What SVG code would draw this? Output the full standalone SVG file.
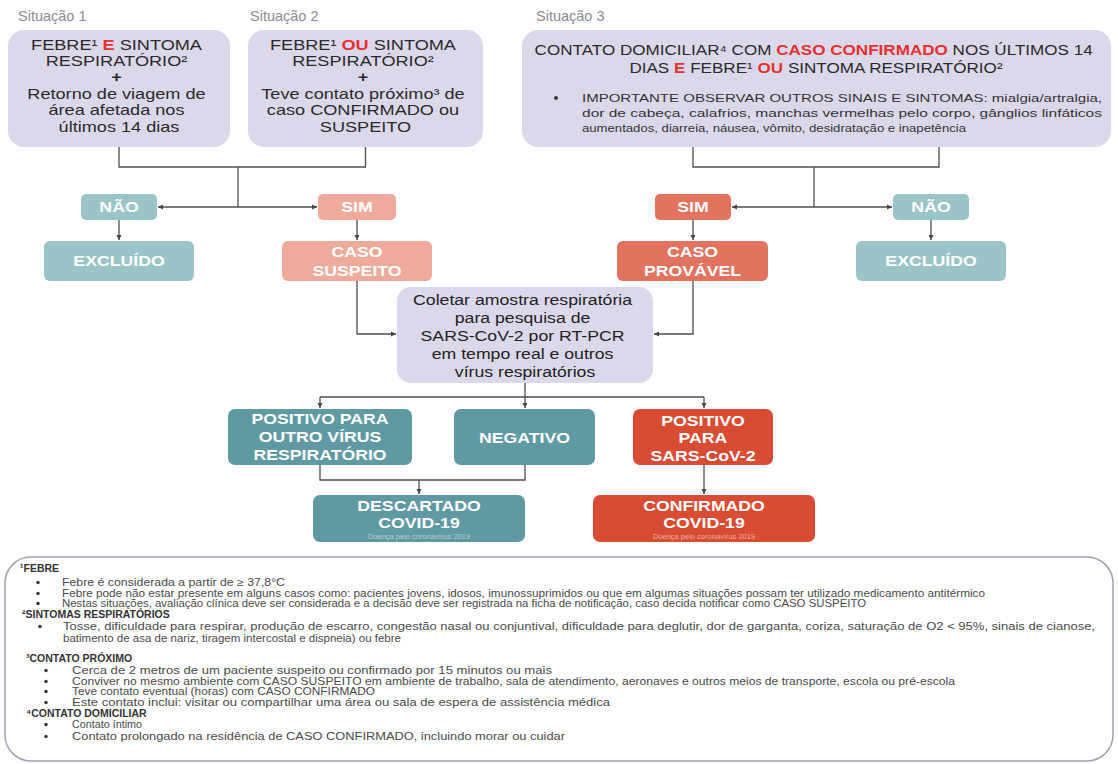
<svg xmlns="http://www.w3.org/2000/svg" width="1118" height="764" viewBox="0 0 1118 764">
<defs>
<marker id="ah" markerWidth="7" markerHeight="7" refX="5" refY="3" orient="auto" markerUnits="userSpaceOnUse"><path d="M0,0.5 L5,3 L0,5.5 z" fill="#444"/></marker>
<style>
text{font-family:"Liberation Sans",Arial,sans-serif}
.sit{font-size:14.5px;fill:#8c8c8c}
.bt{font-size:14.5px;fill:#2a2a2a;text-anchor:middle}
.b3{font-size:14px;fill:#2a2a2a;text-anchor:middle}
.bl{font-size:11.5px;fill:#333}
.red{fill:#e5322f;font-weight:bold}
.wt{font-size:14.5px;font-weight:bold;fill:#fff;text-anchor:middle}
.sm{font-size:7.5px;fill:#fff;fill-opacity:.55;text-anchor:middle}
.ct{font-size:14.5px;fill:#222;text-anchor:middle}
.nt{font-size:10.5px;fill:#4a4a4a}
.nh{font-size:10.5px;font-weight:bold;fill:#333}
.conn{stroke:#4d4d4d;stroke-width:1.3;fill:none}
.arr{marker-end:url(#ah)}
.pu{fill:#dcd8eb}
.lt{fill:#9bc4c8}
.ls{fill:#eeab9b}
.ds{fill:#e2735e}
.dt{fill:#5f9aa3}
.rd{fill:#d84c33}
.dot{fill:#333}
</style>
</defs>
<rect width="1118" height="764" fill="#fff"/>

<text class="sit" x="18" y="21">Situação 1</text>
<text class="sit" x="250" y="21">Situação 2</text>
<text class="sit" x="536" y="21">Situação 3</text>

<g id="sit1">
<rect class="pu" x="8" y="30" width="222" height="117" rx="16"/>
<text class="bt" transform="translate(119 0) scale(1.25 1)">
<tspan x="0" y="50">FEBRE¹ <tspan class="red">E</tspan> SINTOMA</tspan>
<tspan x="0" y="66">RESPIRATÓRIO²</tspan>
<tspan x="0" y="82" font-weight="bold">+</tspan>
<tspan x="0" y="99">Retorno de viagem de</tspan>
<tspan x="0" y="115">área afetada nos</tspan>
<tspan x="0" y="132">últimos 14 dias</tspan>
</text>
</g>

<g id="sit2">
<rect class="pu" x="248" y="30" width="235" height="117" rx="16"/>
<text class="bt" transform="translate(365.5 0) scale(1.25 1)">
<tspan x="0" y="50">FEBRE¹ <tspan class="red">OU</tspan> SINTOMA</tspan>
<tspan x="0" y="66">RESPIRATÓRIO²</tspan>
<tspan x="0" y="82" font-weight="bold">+</tspan>
<tspan x="0" y="99">Teve contato próximo³ de</tspan>
<tspan x="0" y="115">caso CONFIRMADO ou</tspan>
<tspan x="0" y="132">SUSPEITO</tspan>
</text>
</g>

<g id="sit3">
<rect class="pu" x="522" y="30" width="589" height="117" rx="16"/>
<text class="b3" transform="translate(816 0) scale(1.22 1)">
<tspan x="0" y="55">CONTATO DOMICILIAR⁴ COM <tspan class="red">CASO CONFIRMADO</tspan> NOS ÚLTIMOS 14</tspan>
<tspan x="0" y="73">DIAS <tspan class="red">E</tspan> FEBRE¹ <tspan class="red">OU</tspan> SINTOMA RESPIRATÓRIO²</tspan>
</text>
<circle class="dot" cx="556" cy="98" r="2"/>
<text class="bl" x="582" y="102" textLength="520" lengthAdjust="spacingAndGlyphs">IMPORTANTE OBSERVAR OUTROS SINAIS E SINTOMAS: mialgia/artralgia,</text>
<text class="bl" x="582" y="117" textLength="520" lengthAdjust="spacingAndGlyphs">dor de cabeça, calafrios, manchas vermelhas pelo corpo, gânglios linfáticos</text>
<text class="bl" x="582" y="132" textLength="384" lengthAdjust="spacingAndGlyphs">aumentados, diarreia, náusea, vômito, desidratação e inapetência</text>
</g>

<g id="nao1"><rect class="lt" x="81" y="194" width="76" height="26" rx="5"/><text class="wt" transform="translate(119 0) scale(1.22 1)" x="0" y="212">NÃO</text></g>
<g id="excluido1"><rect class="lt" x="44" y="241" width="150" height="40" rx="6"/><text class="wt" transform="translate(119 0) scale(1.22 1)" x="0" y="266">EXCLUÍDO</text></g>
<g id="sim1"><rect class="ls" x="318" y="194" width="78" height="26" rx="5"/><text class="wt" transform="translate(357 0) scale(1.22 1)" x="0" y="212">SIM</text></g>
<g id="suspeito"><rect class="ls" x="282" y="241" width="150" height="40" rx="6"/><text class="wt" transform="translate(357 0) scale(1.22 1)"><tspan x="0" y="257">CASO</tspan><tspan x="0" y="276">SUSPEITO</tspan></text></g>
<g id="sim2"><rect class="ds" x="655" y="194" width="76" height="26" rx="5"/><text class="wt" transform="translate(693 0) scale(1.22 1)" x="0" y="212">SIM</text></g>
<g id="provavel"><rect class="ds" x="617" y="241" width="151" height="40" rx="6"/><text class="wt" transform="translate(692.5 0) scale(1.22 1)"><tspan x="0" y="257">CASO</tspan><tspan x="0" y="276">PROVÁVEL</tspan></text></g>
<g id="nao2"><rect class="lt" x="893" y="194" width="76" height="26" rx="5"/><text class="wt" transform="translate(931 0) scale(1.22 1)" x="0" y="212">NÃO</text></g>
<g id="excluido2"><rect class="lt" x="856" y="241" width="150" height="40" rx="6"/><text class="wt" transform="translate(931 0) scale(1.22 1)" x="0" y="266">EXCLUÍDO</text></g>

<g id="coletar">
<rect class="pu" x="397" y="287" width="256" height="96" rx="14"/>
<text class="ct" transform="translate(525 0) scale(1.22 1)">
<tspan x="0" y="305">Coletar amostra respiratória</tspan>
<tspan x="0" y="323">para pesquisa de</tspan>
<tspan x="0" y="341">SARS-CoV-2 por RT-PCR</tspan>
<tspan x="0" y="359">em tempo real e outros</tspan>
<tspan x="0" y="377">vírus respiratórios</tspan>
</text>
</g>

<g id="pos-outro"><rect class="dt" x="228" y="409" width="184" height="56" rx="7"/>
<text class="wt" transform="translate(320 0) scale(1.22 1)"><tspan x="0" y="424">POSITIVO PARA</tspan><tspan x="0" y="442">OUTRO VÍRUS</tspan><tspan x="0" y="460">RESPIRATÓRIO</tspan></text></g>
<g id="negativo"><rect class="dt" x="454" y="409" width="141" height="56" rx="7"/>
<text class="wt" transform="translate(524.5 0) scale(1.22 1)"><tspan x="0" y="443">NEGATIVO</tspan></text></g>
<g id="pos-sars"><rect class="rd" x="633" y="409" width="140" height="56" rx="7"/>
<text class="wt" transform="translate(703 0) scale(1.22 1)"><tspan x="0" y="426">POSITIVO</tspan><tspan x="0" y="443">PARA</tspan><tspan x="0" y="461">SARS-CoV-2</tspan></text></g>
<g id="descartado"><rect class="dt" x="313" y="495" width="212" height="47" rx="7"/>
<text class="wt" transform="translate(419 0) scale(1.22 1)" font-size="15.5"><tspan x="0" y="511">DESCARTADO</tspan><tspan x="0" y="528">COVID-19</tspan></text>
<text class="sm" x="419" y="539">Doença pelo coronavírus 2019</text></g>
<g id="confirmado"><rect class="rd" x="593" y="495" width="222" height="47" rx="7"/>
<text class="wt" transform="translate(704 0) scale(1.22 1)" font-size="15.5"><tspan x="0" y="511">CONFIRMADO</tspan><tspan x="0" y="528">COVID-19</tspan></text>
<text class="sm" x="704" y="539">Doença pelo coronavírus 2019</text></g>

<g id="connectors">
<path class="conn" d="M119,147 V167 H365.5 V147"/>
<path class="conn" d="M238,167 V207"/>
<path class="conn arr" d="M238,207 H158"/>
<path class="conn arr" d="M238,207 H317"/>
<path class="conn arr" d="M119,220 V240"/>
<path class="conn arr" d="M357,220 V240"/>
<path class="conn arr" d="M357,281 V334 H396"/>
<path class="conn" d="M693,147 V167 H939 V147"/>
<path class="conn" d="M814,167 V207"/>
<path class="conn arr" d="M814,207 H732"/>
<path class="conn arr" d="M814,207 H892"/>
<path class="conn arr" d="M693,220 V240"/>
<path class="conn arr" d="M931,220 V240"/>
<path class="conn arr" d="M693,281 V334 H654"/>
<path class="conn" d="M525,383 V397 M320,397 H704"/>
<path class="conn arr" d="M320,397 V408"/>
<path class="conn arr" d="M525,397 V408"/>
<path class="conn arr" d="M704,397 V408"/>
<path class="conn" d="M320,465 V480 H525 V465"/>
<path class="conn arr" d="M419,480 V494"/>
<path class="conn arr" d="M704,465 V494"/>
</g>

<g id="notes">
<rect x="5" y="557" width="1108" height="204" rx="26" fill="none" stroke="#9ea2b2" stroke-width="1.5"/>
<text class="nh" x="20" y="572">¹FEBRE</text>
<circle class="dot" cx="38" cy="582.5" r="1.7"/>
<text class="nt" x="62" y="586" textLength="223" lengthAdjust="spacingAndGlyphs">Febre é considerada a partir de ≥ 37,8°C</text>
<circle class="dot" cx="38" cy="593.5" r="1.7"/>
<text class="nt" x="62" y="597" textLength="923" lengthAdjust="spacingAndGlyphs">Febre pode não estar presente em alguns casos como: pacientes jovens, idosos, imunossuprimidos ou que em algumas situações possam ter utilizado medicamento antitérmico</text>
<circle class="dot" cx="38" cy="603.5" r="1.7"/>
<text class="nt" x="62" y="607" textLength="804" lengthAdjust="spacingAndGlyphs">Nestas situações, avaliação clínica deve ser considerada e a decisão deve ser registrada na ficha de notificação, caso decida notificar como CASO SUSPEITO</text>
<text class="nh" x="22" y="618">²SINTOMAS RESPIRATÓRIOS</text>
<circle class="dot" cx="40" cy="626.5" r="1.7"/>
<text class="nt" x="63" y="630" textLength="1032" lengthAdjust="spacingAndGlyphs">Tosse, dificuldade para respirar, produção de escarro, congestão nasal ou conjuntival, dificuldade para deglutir, dor de garganta, coriza, saturação de O2 &lt; 95%, sinais de cianose,</text>
<text class="nt" x="63" y="642" textLength="338" lengthAdjust="spacingAndGlyphs">batimento de asa de nariz, tiragem intercostal e dispneia) ou febre</text>
<text class="nh" x="26" y="662">³CONTATO PRÓXIMO</text>
<circle class="dot" cx="46" cy="670.5" r="1.7"/>
<text class="nt" x="72" y="674" textLength="480" lengthAdjust="spacingAndGlyphs">Cerca de 2 metros de um paciente suspeito ou confirmado por 15 minutos ou mais</text>
<circle class="dot" cx="46" cy="681.5" r="1.7"/>
<text class="nt" x="72" y="685" textLength="883" lengthAdjust="spacingAndGlyphs">Conviver no mesmo ambiente com CASO SUSPEITO em ambiente de trabalho, sala de atendimento, aeronaves e outros meios de transporte, escola ou pré-escola</text>
<circle class="dot" cx="46" cy="691.5" r="1.7"/>
<text class="nt" x="72" y="695" textLength="303" lengthAdjust="spacingAndGlyphs">Teve contato eventual (horas) com CASO CONFIRMADO</text>
<circle class="dot" cx="46" cy="702.5" r="1.7"/>
<text class="nt" x="72" y="706" textLength="538" lengthAdjust="spacingAndGlyphs">Este contato inclui: visitar ou compartilhar uma área ou sala de espera de assistência médica</text>
<text class="nh" x="26" y="717">⁴CONTATO DOMICILIAR</text>
<circle class="dot" cx="46" cy="724.5" r="1.7"/>
<text class="nt" x="72" y="728" textLength="70" lengthAdjust="spacingAndGlyphs">Contato íntimo</text>
<circle class="dot" cx="46" cy="736.5" r="1.7"/>
<text class="nt" x="72" y="740" textLength="493" lengthAdjust="spacingAndGlyphs">Contato prolongado na residência de CASO CONFIRMADO, incluindo morar ou cuidar</text>
</g>
</svg>
